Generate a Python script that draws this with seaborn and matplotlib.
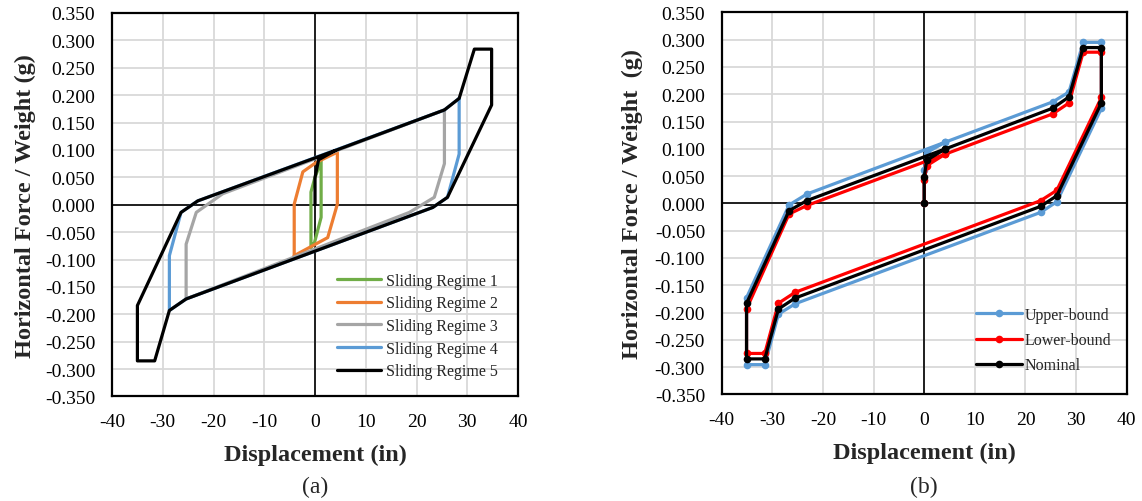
import numpy as np
import matplotlib
matplotlib.use("Agg")
import matplotlib.pyplot as plt
import seaborn as sns

# ---------------------------------------------------------------
# Data
# ---------------------------------------------------------------

# (a) sliding regimes
reg1_x = [-0.8, -0.8, -0.1, 1.2, 1.2, -0.1, -0.8]
reg1_y = [-0.078, 0.023, 0.047, 0.080, -0.023, -0.069, -0.078]

reg2_x = [-4.1, -4.1, -2.4, 0.2, 4.4, 4.4, 2.5, -4.1]
reg2_y = [-0.093, 0.001, 0.060, 0.077, 0.096, 0.001, -0.060, -0.093]

reg3_x = [25.5, 25.5, 23.5, 18.6, -25.4, -25.4, -23.4, -18.2, 25.5]
reg3_y = [0.173, 0.075, 0.0135, -0.014, -0.172, -0.072, -0.014, 0.020, 0.173]

reg4_x = [28.4, 28.4, 26.1, 23.2, -25.4, -28.7, -28.7, -26.4, -23.1, 25.5, 28.4]
reg4_y = [0.194, 0.0925, 0.0135, -0.005, -0.172, -0.193, -0.093, -0.014, 0.007, 0.173, 0.194]

reg5_x = [0, 0, 0.7, 4.0, 25.5, 28.4, 31.4, 34.8, 34.8, 26.1, 23.2, -25.4, -28.7,
          -31.6, -35.0, -35.0, -26.4, -23.1, 4.0]
reg5_y = [0, 0.050, 0.082, 0.099, 0.173, 0.194, 0.284, 0.284, 0.182, 0.0135, -0.005,
          -0.172, -0.193, -0.285, -0.285, -0.184, -0.014, 0.007, 0.099]

regime_labels = ["Sliding Regime 1", "Sliding Regime 2", "Sliding Regime 3",
                 "Sliding Regime 4", "Sliding Regime 5"]
regime_colors = ["#70AD47", "#ED7D31", "#A5A5A5", "#5B9BD5", "#000000"]

# (b) property bounds
disp_b = [0, 0, 0.5, 4.1, 25.4, 28.6, 31.4, 35.0, 35.0, 26.2, 23.0, -25.5, -28.8,
          -31.5, -35.1, -35.1, -26.7, -23.2, 4.1]
upper_y = [0, 0.062, 0.093, 0.112, 0.186, 0.204, 0.295, 0.295, 0.174, 0.003, -0.0165,
           -0.184, -0.203, -0.2955, -0.2955, -0.173, -0.003, 0.017, 0.112]
lower_y = [0, 0.042, 0.069, 0.090, 0.164, 0.184, 0.277, 0.277, 0.194, 0.024, 0.005,
           -0.163, -0.183, -0.275, -0.275, -0.1935, -0.0196, -0.004, 0.090]
nominal_y = [0, 0.049, 0.079, 0.0995, 0.1745, 0.195, 0.2855, 0.2855, 0.184, 0.014,
             -0.0055, -0.1735, -0.1936, -0.285, -0.285, -0.183, -0.0135, 0.005, 0.0995]

bound_labels = ["Upper-bound", "Lower-bound", "Nominal"]
bound_colors = ["#5B9BD5", "#FF0000", "#000000"]

x_ticks = list(range(-40, 41, 10))
y_ticks = [-0.35, -0.30, -0.25, -0.20, -0.15, -0.10, -0.05, 0.0,
           0.05, 0.10, 0.15, 0.20, 0.25, 0.30, 0.35]

# ---------------------------------------------------------------
# Style
# ---------------------------------------------------------------
sns.set_theme(style="white")
plt.rcParams["font.family"] = ["Liberation Serif", "DejaVu Serif"]
plt.rcParams["axes.unicode_minus"] = False

fig = plt.figure(figsize=(11.42, 5.02), dpi=100)
ax_a = fig.add_axes([0.0981, 0.2082, 0.3555, 0.764])
ax_b = fig.add_axes([0.6320, 0.2124, 0.3546, 0.761])


def style_axes(ax, ylabel, label_x):
    ax.set_xlim(-40, 40)
    ax.set_ylim(-0.35, 0.35)
    ax.set_xticks(x_ticks)
    ax.set_yticks(y_ticks)
    ax.set_yticklabels([f"{v:.3f}" for v in y_ticks])
    ax.grid(True, color="#d9d9d9", lw=1.3)
    ax.set_axisbelow(True)
    ax.axhline(0, color="black", lw=1.2, zorder=1.5)
    ax.axvline(0, color="black", lw=1.2, zorder=1.5)
    for s in ax.spines.values():
        s.set_color("black")
        s.set_linewidth(1.6)
    ax.tick_params(axis="both", length=0, labelsize=14, colors="black")
    ax.tick_params(axis="x", pad=12)
    ax.tick_params(axis="y", pad=12)
    ax.set_xlabel("Displacement (in)", fontsize=17.5, fontweight="bold")
    ax.set_ylabel(ylabel, fontsize=17.5, fontweight="bold")
    ax.xaxis.set_label_coords(0.5, -0.124)
    ax.yaxis.set_label_coords(label_x, 0.5)


# (a)
for xs, ys, lab, col in zip([reg1_x, reg2_x, reg3_x, reg4_x, reg5_x],
                            [reg1_y, reg2_y, reg3_y, reg4_y, reg5_y],
                            regime_labels, regime_colors):
    sns.lineplot(x=xs, y=ys, sort=False, estimator=None, ax=ax_a, color=col,
                 lw=2.3, label=lab, zorder=3)
style_axes(ax_a, "Horizontal Force / Weight (g)", -0.187)
ax_a.legend(loc="upper left", bbox_to_anchor=(0.553, 0.323), frameon=False,
            fontsize=11.5, borderpad=0, borderaxespad=0, handlelength=2.8,
            handletextpad=0.3, labelspacing=0.42)

# (b)
for ys, lab, col in zip([upper_y, lower_y, nominal_y], bound_labels, bound_colors):
    sns.lineplot(x=disp_b, y=ys, sort=False, estimator=None, ax=ax_b, color=col,
                 lw=2.3, marker="o", markersize=5.5, markeredgewidth=0,
                 label=lab, zorder=3)
style_axes(ax_b, "Horizontal Force / Weight  (g)", -0.194)
ax_b.legend(loc="upper left", bbox_to_anchor=(0.628, 0.229), frameon=False,
            fontsize=11.5, borderpad=0, borderaxespad=0, handlelength=2.85,
            handletextpad=0.2, labelspacing=0.58)

fig.text(315 / 1142, 1 - 487 / 502, "(a)", ha="center", va="center", fontsize=17)
fig.text(924 / 1142, 1 - 487 / 502, "(b)", ha="center", va="center", fontsize=17)

fig.savefig("out.png", dpi=100)
